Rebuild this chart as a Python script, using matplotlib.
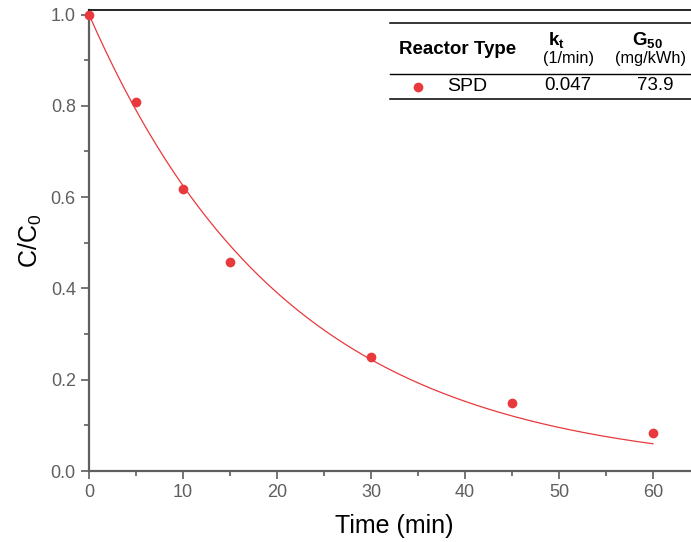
import numpy as np
import matplotlib
matplotlib.use("Agg")
import matplotlib.pyplot as plt
from matplotlib.lines import Line2D

plt.rcParams['font.family'] = ['Liberation Sans', 'DejaVu Sans']
plt.rcParams['mathtext.fontset'] = 'custom'
plt.rcParams['mathtext.rm'] = 'Liberation Sans'
plt.rcParams['mathtext.it'] = 'Liberation Sans:italic'
plt.rcParams['mathtext.bf'] = 'Liberation Sans:bold'

# measured data
time_min = [0, 5, 10, 15, 30, 45, 60]
c_ratio = [1.0, 0.808, 0.618, 0.457, 0.249, 0.149, 0.083]

# legend table values
reactor = "SPD"
k_t = 0.047
g_50 = "73.9"

RED = '#e8393c'
GRAY = '#5f5f5f'

W, H = 691, 542
fig = plt.figure(figsize=(W / 100, H / 100), dpi=100)

def fx(px):
    return px / W

def fy(py):
    return 1 - py / H

ax = fig.add_axes([fx(89), fy(471), fx(700) - fx(89), fy(10) - fy(471)])

# first-order fit C/C0 = exp(-k t)
t_fit = np.linspace(0, 60, 200)
ax.plot(t_fit, np.exp(-k_t * t_fit), color=RED, lw=0.9, zorder=2)
ax.plot(time_min, c_ratio, 'o', color=RED, ms=7, mec='none', zorder=3, clip_on=False)

ax.set_xlim(0, 65)
ax.set_ylim(0, 1.01)
ax.set_xticks(range(0, 61, 10))
ax.set_xticks(range(5, 61, 10), minor=True)
ax.set_yticks(np.arange(0, 1.01, 0.2))
ax.set_yticks(np.arange(0.1, 1.0, 0.2), minor=True)
ax.yaxis.set_major_formatter(matplotlib.ticker.FormatStrFormatter('%.1f'))

ax.tick_params(which='both', direction='out', color=GRAY, width=1.2,
               labelcolor=GRAY, labelsize=13)
ax.tick_params(which='major', length=6)
ax.tick_params(which='minor', length=3.5)

for side in ['left', 'bottom']:
    ax.spines[side].set_color(GRAY)
    ax.spines[side].set_linewidth(1.6)
ax.spines['top'].set_color('black')
ax.spines['top'].set_linewidth(1.2)
ax.spines['right'].set_visible(False)

ax.set_xlabel('Time (min)', fontsize=18, labelpad=9)
ax.set_ylabel('C/C$_0$', fontsize=18, labelpad=5)

# legend table drawn as lines + text
for ypx, lw in [(22.5, 1.1), (73.5, 1.0), (99, 1.1)]:
    fig.add_artist(Line2D([fx(390), 1.0], [fy(ypx), fy(ypx)], color='black', lw=lw))

fig.text(fx(457.5), fy(49), 'Reactor Type', fontsize=13.5, fontweight='bold',
         ha='center', va='center')
fig.text(fx(556), fy(40), r'$\mathbf{k_t}$', fontsize=13.5,
         ha='center', va='center')
fig.text(fx(568), fy(59), '(1/min)', fontsize=11.8, ha='center', va='center')
fig.text(fx(647), fy(40), r'$\mathbf{G_{50}}$', fontsize=13.5,
         ha='center', va='center')
fig.text(fx(615), fy(59), '(mg/kWh)', fontsize=11.8, ha='left', va='center')

fig.add_artist(Line2D([fx(418)], [fy(87)], marker='o', color=RED, ms=7, mec='none'))
fig.text(fx(467), fy(87), reactor, fontsize=14, ha='center', va='center')
fig.text(fx(568), fy(86), f'{k_t:.3f}', fontsize=13.5, ha='center', va='center')
fig.text(fx(655), fy(86), g_50, fontsize=13.5, ha='center', va='center')

fig.savefig('out.png', dpi=100)
